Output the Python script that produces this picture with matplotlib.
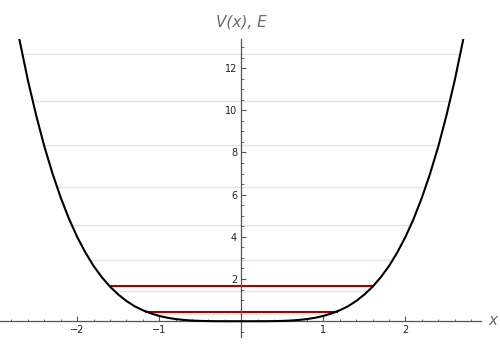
import numpy as np
import matplotlib
matplotlib.use("Agg")
import matplotlib.pyplot as plt
from matplotlib.ticker import FixedLocator, MultipleLocator

# potential curve
x = [-2.8, -2.7, -2.6, -2.5, -2.4, -2.3, -2.2, -2.1, -2.0, -1.9, -1.8, -1.7, -1.6, -1.5,
     -1.4, -1.3, -1.2, -1.1, -1.0, -0.9, -0.8, -0.7, -0.6, -0.5, -0.4, -0.3, -0.2, -0.1,
     0.0, 0.1, 0.2, 0.3, 0.4, 0.5, 0.6, 0.7, 0.8, 0.9, 1.0, 1.1, 1.2, 1.3, 1.4, 1.5,
     1.6, 1.7, 1.8, 1.9, 2.0, 2.1, 2.2, 2.3, 2.4, 2.5, 2.6, 2.7, 2.8]
V = [15.37, 13.29, 11.42, 9.77, 8.29, 7.00, 5.86, 4.86, 4.00, 3.26, 2.62, 2.09, 1.64, 1.27,
     0.96, 0.71, 0.52, 0.37, 0.25, 0.164, 0.102, 0.060, 0.032, 0.016, 0.006, 0.002, 0.0004, 0.0,
     0.0, 0.0, 0.0004, 0.002, 0.006, 0.016, 0.032, 0.060, 0.102, 0.164, 0.25, 0.37, 0.52,
     0.71, 0.96, 1.27, 1.64, 2.09, 2.62, 3.26, 4.00, 4.86, 5.86, 7.00, 8.29, 9.77, 11.42,
     13.29, 15.37]

# energy levels
grey_levels = [0.33, 1.45, 2.88, 4.55, 6.37, 8.36, 10.46, 12.66]
red_levels = [0.46, 1.66]

x_ticks = [-2, -1, 1, 2]
y_ticks = [2, 4, 6, 8, 10, 12]

axis_col = "#555555"
label_col = "#6b6b6b"

fig = plt.figure(figsize=(5, 3.5), dpi=100)
ax = fig.add_axes([0.0, 0.037, 0.962, 0.851])

xs = np.array(x)
vs = np.array(V)
half = xs >= 0


def turning(e):
    return np.interp(e, vs[half], xs[half])


for e in grey_levels:
    t = turning(e)
    ax.plot([-t, t], [e, e], color="#e4e4e4", lw=1.0, zorder=1)
for e in red_levels:
    t = turning(e)
    ax.plot([-t, t], [e, e], color="#a80000", lw=1.5, zorder=2)

ax.plot(xs, vs, color="black", lw=1.5, zorder=3, clip_on=True)

ax.set_xlim(-2.94, 2.92)
ax.set_ylim(-0.75, 13.37)

for s in ["top", "right"]:
    ax.spines[s].set_visible(False)
ax.spines["left"].set_position(("data", 0))
ax.spines["bottom"].set_position(("data", 0))
for s in ["left", "bottom"]:
    ax.spines[s].set_color(axis_col)
    ax.spines[s].set_linewidth(0.9)

ax.xaxis.set_major_locator(FixedLocator(x_ticks))
ax.yaxis.set_major_locator(FixedLocator(y_ticks))
ax.xaxis.set_minor_locator(MultipleLocator(0.2))
ax.yaxis.set_minor_locator(MultipleLocator(0.5))
ax.set_xticklabels(["\u22122", "\u22121", "1", "2"])
ax.set_yticklabels([str(t) for t in y_ticks])

ax.tick_params(which="major", direction="in", length=3.5, width=0.8, color=axis_col,
               labelsize=7, labelcolor="#222222", pad=3)
ax.tick_params(which="minor", direction="in", length=1.8, width=0.6, color=axis_col)

fig.text(0.482, 0.937, "V(x), E", ha="center", va="center",
         fontsize=11, color=label_col, style="italic")
fig.text(0.986, 0.083, "x", ha="center", va="center", fontsize=11,
         color=label_col, style="italic")

fig.savefig("out.png", dpi=100)
